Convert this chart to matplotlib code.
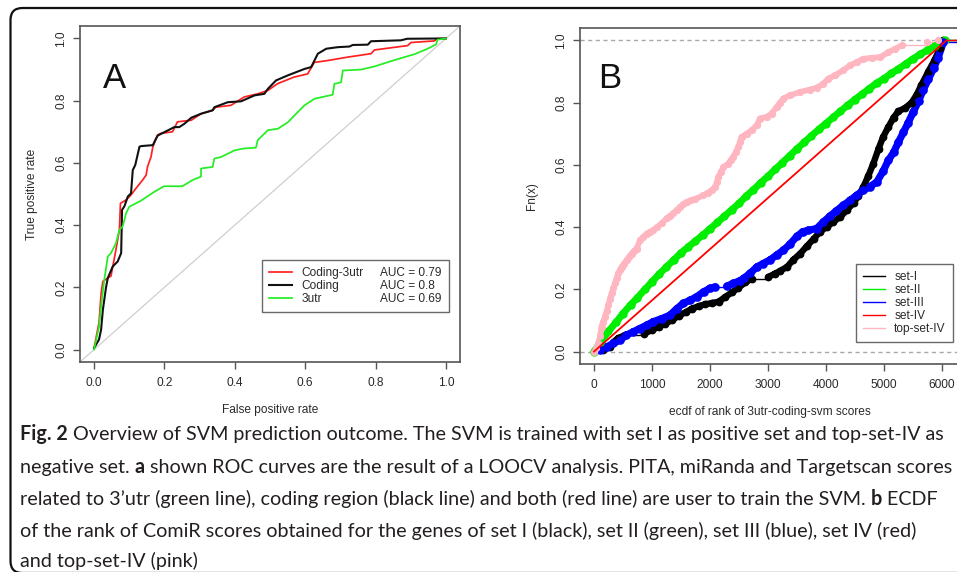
import matplotlib
matplotlib.use("Agg")
import matplotlib.pyplot as plt
from matplotlib.lines import Line2D
from matplotlib.patches import FancyBboxPatch
from matplotlib.transforms import IdentityTransform
import numpy as np

W, H, DPI = 957, 572, 100

# ---------------- Panel A: ROC curves ----------------
roc_names = ["Coding-3utr", "Coding", "3utr"]
roc_auc = [0.79, 0.8, 0.69]
roc_colors = ["#ff2020", "#111111", "#22ee22"]
roc_widths = [1.25, 1.5, 1.25]

fpr_coding3utr = [0.0, 0.012, 0.014, 0.02, 0.025, 0.039, 0.048, 0.053, 0.062, 0.072, 0.075, 0.091,
                  0.105, 0.119, 0.138, 0.148, 0.152, 0.162, 0.167, 0.171, 0.181, 0.19, 0.223, 0.237,
                  0.276, 0.304, 0.337, 0.346, 0.389, 0.427, 0.465, 0.494, 0.522, 0.569, 0.607, 0.626,
                  0.664, 0.721, 0.787, 0.797, 0.891, 0.901, 0.967, 0.976, 1.0]
tpr_coding3utr = [0.005, 0.075, 0.085, 0.18, 0.219, 0.23, 0.236, 0.266, 0.32, 0.385, 0.47, 0.481,
                  0.497, 0.518, 0.545, 0.561, 0.588, 0.62, 0.652, 0.663, 0.69, 0.695, 0.7, 0.732,
                  0.737, 0.758, 0.769, 0.779, 0.785, 0.812, 0.822, 0.833, 0.855, 0.876, 0.886, 0.923,
                  0.929, 0.94, 0.951, 0.963, 0.977, 0.987, 0.992, 0.999, 1.0]

fpr_coding = [0.0, 0.014, 0.02, 0.025, 0.034, 0.039, 0.053, 0.067, 0.077, 0.0795, 0.086, 0.096,
              0.105, 0.11, 0.117, 0.129, 0.134, 0.167, 0.176, 0.181, 0.209, 0.228, 0.242, 0.257,
              0.276, 0.304, 0.337, 0.342, 0.38, 0.418, 0.456, 0.484, 0.494, 0.517, 0.55, 0.598,
              0.617, 0.636, 0.66, 0.693, 0.726, 0.735, 0.778, 0.787, 0.872, 0.89, 1.0]
tpr_coding = [0.005, 0.032, 0.064, 0.128, 0.2, 0.23, 0.267, 0.283, 0.31, 0.449, 0.46, 0.492,
              0.502, 0.577, 0.593, 0.652, 0.654, 0.657, 0.678, 0.688, 0.704, 0.715, 0.715, 0.726,
              0.745, 0.758, 0.769, 0.779, 0.795, 0.798, 0.817, 0.822, 0.838, 0.865, 0.881, 0.902,
              0.908, 0.951, 0.967, 0.972, 0.974, 0.979, 0.98, 0.991, 0.994, 0.999, 1.0]

fpr_3utr = [0.0, 0.014, 0.02, 0.029, 0.039, 0.048, 0.062, 0.072, 0.081, 0.091, 0.1, 0.119,
            0.134, 0.171, 0.199, 0.251, 0.28, 0.304, 0.304, 0.337, 0.342, 0.361, 0.399, 0.423,
            0.46, 0.465, 0.494, 0.523, 0.551, 0.57, 0.598, 0.626, 0.678, 0.683, 0.702, 0.707,
            0.759, 0.797, 0.844, 0.882, 0.91, 0.948, 0.972, 0.976, 1.0]
tpr_3utr = [0.0, 0.073, 0.139, 0.224, 0.299, 0.31, 0.341, 0.385, 0.395, 0.438, 0.459, 0.47,
            0.479, 0.507, 0.525, 0.525, 0.545, 0.556, 0.582, 0.587, 0.614, 0.619, 0.64, 0.646,
            0.649, 0.673, 0.705, 0.71, 0.731, 0.753, 0.785, 0.806, 0.819, 0.854, 0.859, 0.897,
            0.9, 0.91, 0.927, 0.94, 0.949, 0.967, 0.981, 0.996, 1.0]

roc_fpr = [fpr_coding3utr, fpr_coding, fpr_3utr]
roc_tpr = [tpr_coding3utr, tpr_coding, tpr_3utr]

# ---------------- Panel B: ECDF of ranks ----------------
ecdf_names = ["set-I", "set-II", "set-III", "set-IV", "top-set-IV"]
ecdf_colors = ["#000000", "#00ee00", "#0000ff", "#ff0000", "#ffb6c1"]

rank_set1 = [150, 280, 340, 410, 530, 870, 1000, 1120, 1230, 1350, 1460, 1580, 1690, 1810, 1920,
             2040, 2150, 2260, 2380, 2490, 2610, 2720, 3010, 3120, 3210, 3330, 3440, 3560, 3670,
             3790, 3900, 4020, 4130, 4250, 4360, 4480, 4560, 4650, 4730, 4820, 4910, 4990, 5080,
             5170, 5250, 5370, 5480, 5570, 5650, 5770, 5880, 5970, 6030]
fn_set1 = [0.005, 0.015, 0.031, 0.042, 0.053, 0.058, 0.069, 0.08, 0.09, 0.101, 0.115, 0.126, 0.138,
           0.146, 0.152, 0.156, 0.16, 0.175, 0.19, 0.205, 0.222, 0.234, 0.24, 0.25, 0.259, 0.272,
           0.295, 0.315, 0.338, 0.362, 0.385, 0.401, 0.417, 0.433, 0.454, 0.478, 0.5, 0.53, 0.563,
           0.604, 0.652, 0.69, 0.722, 0.752, 0.772, 0.783, 0.8, 0.826, 0.857, 0.9, 0.938, 0.975, 1.0]

rank_set2 = [0, 120, 250, 380, 500, 630, 750, 880, 1000, 1130, 1250, 1380, 1500, 1630, 1750, 1880,
             2000, 2130, 2250, 2380, 2500, 2630, 2750, 2880, 3000, 3130, 3250, 3380, 3500, 3630,
             3750, 3880, 4000, 4130, 4250, 4380, 4500, 4630, 4750, 4880, 5000, 5130, 5250, 5380,
             5500, 5630, 5750, 5880, 6000, 6060]
fn_set2 = [0.0, 0.032, 0.065, 0.094, 0.122, 0.15, 0.173, 0.2, 0.224, 0.25, 0.272, 0.295, 0.317,
           0.337, 0.355, 0.375, 0.394, 0.415, 0.435, 0.456, 0.476, 0.5, 0.52, 0.543, 0.563, 0.586,
           0.607, 0.63, 0.651, 0.673, 0.693, 0.714, 0.733, 0.753, 0.772, 0.792, 0.81, 0.828, 0.845,
           0.863, 0.877, 0.894, 0.908, 0.925, 0.94, 0.956, 0.968, 0.982, 0.994, 1.0]

rank_set3 = [100, 220, 330, 450, 560, 680, 790, 910, 1020, 1170, 1310, 1430, 1540, 1660, 1770, 1890,
             2000, 2090, 2290, 2400, 2520, 2580, 2690, 2810, 2920, 3040, 3150, 3270, 3380, 3500,
             3600, 3700, 3840, 3960, 4070, 4180, 4300, 4420, 4530, 4650, 4760, 4880, 4990, 5080,
             5170, 5250, 5340, 5420, 5510, 5600, 5680, 5770, 5860, 5940, 6030]
fn_set3 = [0.005, 0.015, 0.026, 0.037, 0.053, 0.064, 0.074, 0.085, 0.096, 0.106, 0.117, 0.138,
           0.155, 0.165, 0.176, 0.192, 0.203, 0.208, 0.21, 0.219, 0.228, 0.235, 0.251, 0.272,
           0.283, 0.295, 0.31, 0.326, 0.345, 0.37, 0.385, 0.39, 0.395, 0.417, 0.435, 0.452, 0.47,
           0.486, 0.502, 0.518, 0.53, 0.545, 0.58, 0.615, 0.64, 0.672, 0.705, 0.735, 0.77, 0.805,
           0.84, 0.875, 0.91, 0.945, 0.995]

rank_set4 = [0, 6080]
fn_set4 = [0.0, 1.0]

rank_top4 = [0, 40, 75, 105, 132, 160, 190, 220, 247, 275, 305, 335, 362, 390, 420, 450, 477, 520,
             564, 610, 650, 690, 736, 794, 850, 909, 960, 1024, 1090, 1168, 1254, 1310, 1369, 1430,
             1484, 1540, 1599, 1670, 1743, 1887, 1960, 2030, 2088, 2120, 2146, 2190, 2232, 2318,
             2360, 2404, 2450, 2490, 2520, 2548, 2634, 2721, 2807, 2864, 2979, 3066, 3152, 3210,
             3267, 3382, 3555, 3727, 3842, 3957, 4044, 4159, 4303, 4418, 4533, 4648, 4792, 4936,
             5080, 5194, 5309, 5740, 5942]
fn_top4 = [0.0, 0.01, 0.026, 0.05, 0.08, 0.096, 0.112, 0.13, 0.149, 0.168, 0.187, 0.203, 0.219,
           0.235, 0.251, 0.262, 0.272, 0.283, 0.294, 0.305, 0.315, 0.323, 0.331, 0.358, 0.368,
           0.379, 0.384, 0.39, 0.4, 0.412, 0.428, 0.436, 0.444, 0.455, 0.465, 0.473, 0.481, 0.486,
           0.49, 0.502, 0.51, 0.518, 0.529, 0.545, 0.561, 0.577, 0.593, 0.604, 0.615, 0.626, 0.642,
           0.658, 0.674, 0.69, 0.7, 0.711, 0.727, 0.749, 0.754, 0.765, 0.786, 0.8, 0.813, 0.824,
           0.834, 0.842, 0.848, 0.861, 0.877, 0.888, 0.904, 0.92, 0.93, 0.941, 0.944, 0.946, 0.962,
           0.973, 0.984, 0.995, 1.0]

ecdf_rank = [rank_set1, rank_set2, rank_set3, rank_set4, rank_top4]
ecdf_fn = [fn_set1, fn_set2, fn_set3, fn_set4, fn_top4]
ecdf_marker = [True, True, True, False, True]
ecdf_chain = [4.6, 5.0, 5.2, 0, 4.2]
ecdf_ms = [5.6, 6.0, 6.2, 0, 5.2]

x_ticks_b = [0, 1000, 2000, 3000, 4000, 5000, 6000]
unit_ticks = [0.0, 0.2, 0.4, 0.6, 0.8, 1.0]

caption_lines = [
    [("Fig. 2", True), (" Overview of SVM prediction outcome. The SVM is trained with set I as positive set and top-set-IV as", False)],
    [("negative set. ", False), ("a", True), (" shown ROC curves are the result of a LOOCV analysis. PITA, miRanda and Targetscan scores", False)],
    [("related to 3\u2019utr (green line), coding region (black line) and both (red line) are user to train the SVM. ", False), ("b", True), (" ECDF", False)],
    [("of the rank of ComiR scores obtained for the genes of set I (black), set II (green), set III (blue), set IV (red)", False)],
    [("and top-set-IV (pink)", False)],
]

# ---------------- figure ----------------
plt.rcParams["font.family"] = ["Liberation Sans", "DejaVu Sans"]
fig = plt.figure(figsize=(W / DPI, H / DPI), dpi=DPI)
fig.patch.set_facecolor("white")

AX_COL = "#555555"
TXT_COL = "#2a2a2a"
FS = 8.6


def px_rect(left, top, right, bottom):
    return [left / W, 1 - bottom / H, (right - left) / W, (bottom - top) / H]


def style_axes(ax):
    for sp in ax.spines.values():
        sp.set_color(AX_COL)
        sp.set_linewidth(1.2)
    ax.tick_params(direction="out", length=5.2, width=1.0, color=AX_COL,
                   labelsize=FS, labelcolor=TXT_COL)
    ax.tick_params(axis="x", pad=5.5)
    ax.tick_params(axis="y", pad=4.0, labelrotation=90)
    for lab in ax.get_yticklabels():
        lab.set_verticalalignment("center")


# Panel A
axA = fig.add_axes(px_rect(80, 26, 460, 362))
axA.set_xlim(-0.04, 1.04)
axA.set_ylim(-0.04, 1.04)
axA.axline((0, 0), (1, 1), color="#cfcfcf", lw=0.9, zorder=1)
handles_a = []
for fx, ty, c, lw in zip(roc_fpr, roc_tpr, roc_colors, roc_widths):
    ln, = axA.plot(fx, ty, color=c, lw=lw, zorder=3)
    handles_a.append(ln)
axA.set_xticks(unit_ticks)
axA.set_yticks(unit_ticks)
axA.set_xticklabels([f"{v:.1f}" for v in unit_ticks])
axA.set_yticklabels([f"{v:.1f}" for v in unit_ticks])
style_axes(axA)
axA.set_xlabel("False positive rate", fontsize=FS, color=TXT_COL)
axA.set_ylabel("True positive rate", fontsize=FS, color=TXT_COL)
axA.xaxis.set_label_coords(0.5, -0.125)
axA.yaxis.set_label_coords(-0.11, 0.5)
axA.text(0.0256, 0.84, "A", fontsize=25, color="#111111", ha="left", va="baseline")

# legend: names in first column, AUC values in second
blank = [Line2D([], [], linestyle="none") for _ in roc_names]
legA = axA.legend(handles_a + blank, roc_names + [f"AUC = {v}" for v in roc_auc],
                  ncol=2, loc="lower right", bbox_to_anchor=(0.971, 0.149), borderaxespad=0,
                  fontsize=FS, frameon=True, fancybox=False, edgecolor="#444444",
                  handlelength=1.9, handletextpad=0.8, columnspacing=-1.3,
                  labelspacing=0.08, borderpad=0.6)
legA.get_frame().set_linewidth(1.0)
for t in legA.get_texts():
    t.set_color(TXT_COL)

# Panel B
axB = fig.add_axes(px_rect(580, 28, 960, 364))
axB.set_xlim(-241.6, 6316)
axB.set_ylim(-0.04, 1.04)
for yv in (0.0, 1.0):
    axB.axhline(yv, color="#a8a8a8", lw=1.0, ls=(0, (3, 2.5)), zorder=1)

xl = axB.get_xlim()
handles_b = []
for r, f, c, mk, cw, ms in zip(ecdf_rank, ecdf_fn, ecdf_colors, ecdf_marker, ecdf_chain, ecdf_ms):
    r = np.asarray(r, float)
    f = np.asarray(f, float)
    if not mk:
        axB.plot(r, f, color=c, lw=1.3, zorder=5)
        axB.plot([r[-1], xl[1]], [f[-1], f[-1]], color=c, lw=1.0, zorder=5)
    else:
        close = np.diff(r) < 200
        thin_x, thin_y, seg_x, seg_y = [], [], [], []
        for i in range(len(r) - 1):
            if close[i]:
                # dense runs of observations appear as a solid chain of dots
                seg_x += [r[i], r[i + 1], np.nan]
                seg_y += [f[i], f[i + 1], np.nan]
            else:
                # isolated observations: horizontal step of the ECDF
                thin_x += [r[i], r[i + 1], np.nan]
                thin_y += [f[i], f[i], np.nan]
        thin_x += [r[-1], xl[1]]
        thin_y += [f[-1], f[-1]]
        axB.plot(thin_x, thin_y, color=c, lw=1.0, zorder=2)
        axB.plot(seg_x, seg_y, color=c, lw=cw, solid_capstyle="round", zorder=3)
        axB.plot(r, f, "o", color=c, ms=ms, mec="none", zorder=4)
    handles_b.append(Line2D([], [], color=c, lw=1.0))

axB.set_xticks(x_ticks_b)
axB.set_xticklabels([str(v) for v in x_ticks_b])
axB.set_yticks(unit_ticks)
axB.set_yticklabels([f"{v:.1f}" for v in unit_ticks])
style_axes(axB)
axB.set_xlabel("ecdf of rank of 3utr-coding-svm scores", fontsize=FS, color=TXT_COL)
axB.set_ylabel("Fn(x)", fontsize=FS, color=TXT_COL)
axB.xaxis.set_label_coords(0.5, -0.125)
axB.yaxis.set_label_coords(-0.11, 0.5)
axB.text(69, 0.846, "B", fontsize=25, color="#111111", ha="left", va="baseline")

legB = axB.legend(handles_b, ecdf_names, loc="lower right", bbox_to_anchor=(0.9816, 0.0655),
                  borderaxespad=0, fontsize=FS, frameon=True, fancybox=False,
                  edgecolor="#444444", handlelength=1.8, handletextpad=0.8,
                  labelspacing=0.08, borderpad=0.6)
legB.get_frame().set_linewidth(1.0)
for t in legB.get_texts():
    t.set_color(TXT_COL)

# ---------------- caption box ----------------
border = FancyBboxPatch((10.5, -1), 990, 565, boxstyle="round,pad=0,rounding_size=12",
                        transform=IdentityTransform(), facecolor="none",
                        edgecolor="#111111", lw=1.6, zorder=0)
fig.patches.append(border)

renderer = fig.canvas.get_renderer()
cap_family = ["Lato", "DejaVu Sans"]
cap_col = "#231f20"


def run_width(runs, size):
    tot = 0.0
    for txt, bold in runs:
        t = fig.text(0, 0, txt, fontsize=size, family=cap_family,
                     fontweight="bold" if bold else "normal")
        tot += t.get_window_extent(renderer).width
        t.remove()
    return tot


cap_size = 12.0 * 921.0 / run_width(caption_lines[0], 12.0)
baselines = [440, 473, 505, 537, 567]
for runs, yb in zip(caption_lines, baselines):
    x = 20.0
    for txt, bold in runs:
        t = fig.text(x / W, 1 - yb / H, txt, fontsize=cap_size, family=cap_family,
                     fontweight="bold" if bold else "normal", color=cap_col,
                     ha="left", va="baseline")
        x += t.get_window_extent(renderer).width

fig.savefig("out.png", dpi=DPI)
